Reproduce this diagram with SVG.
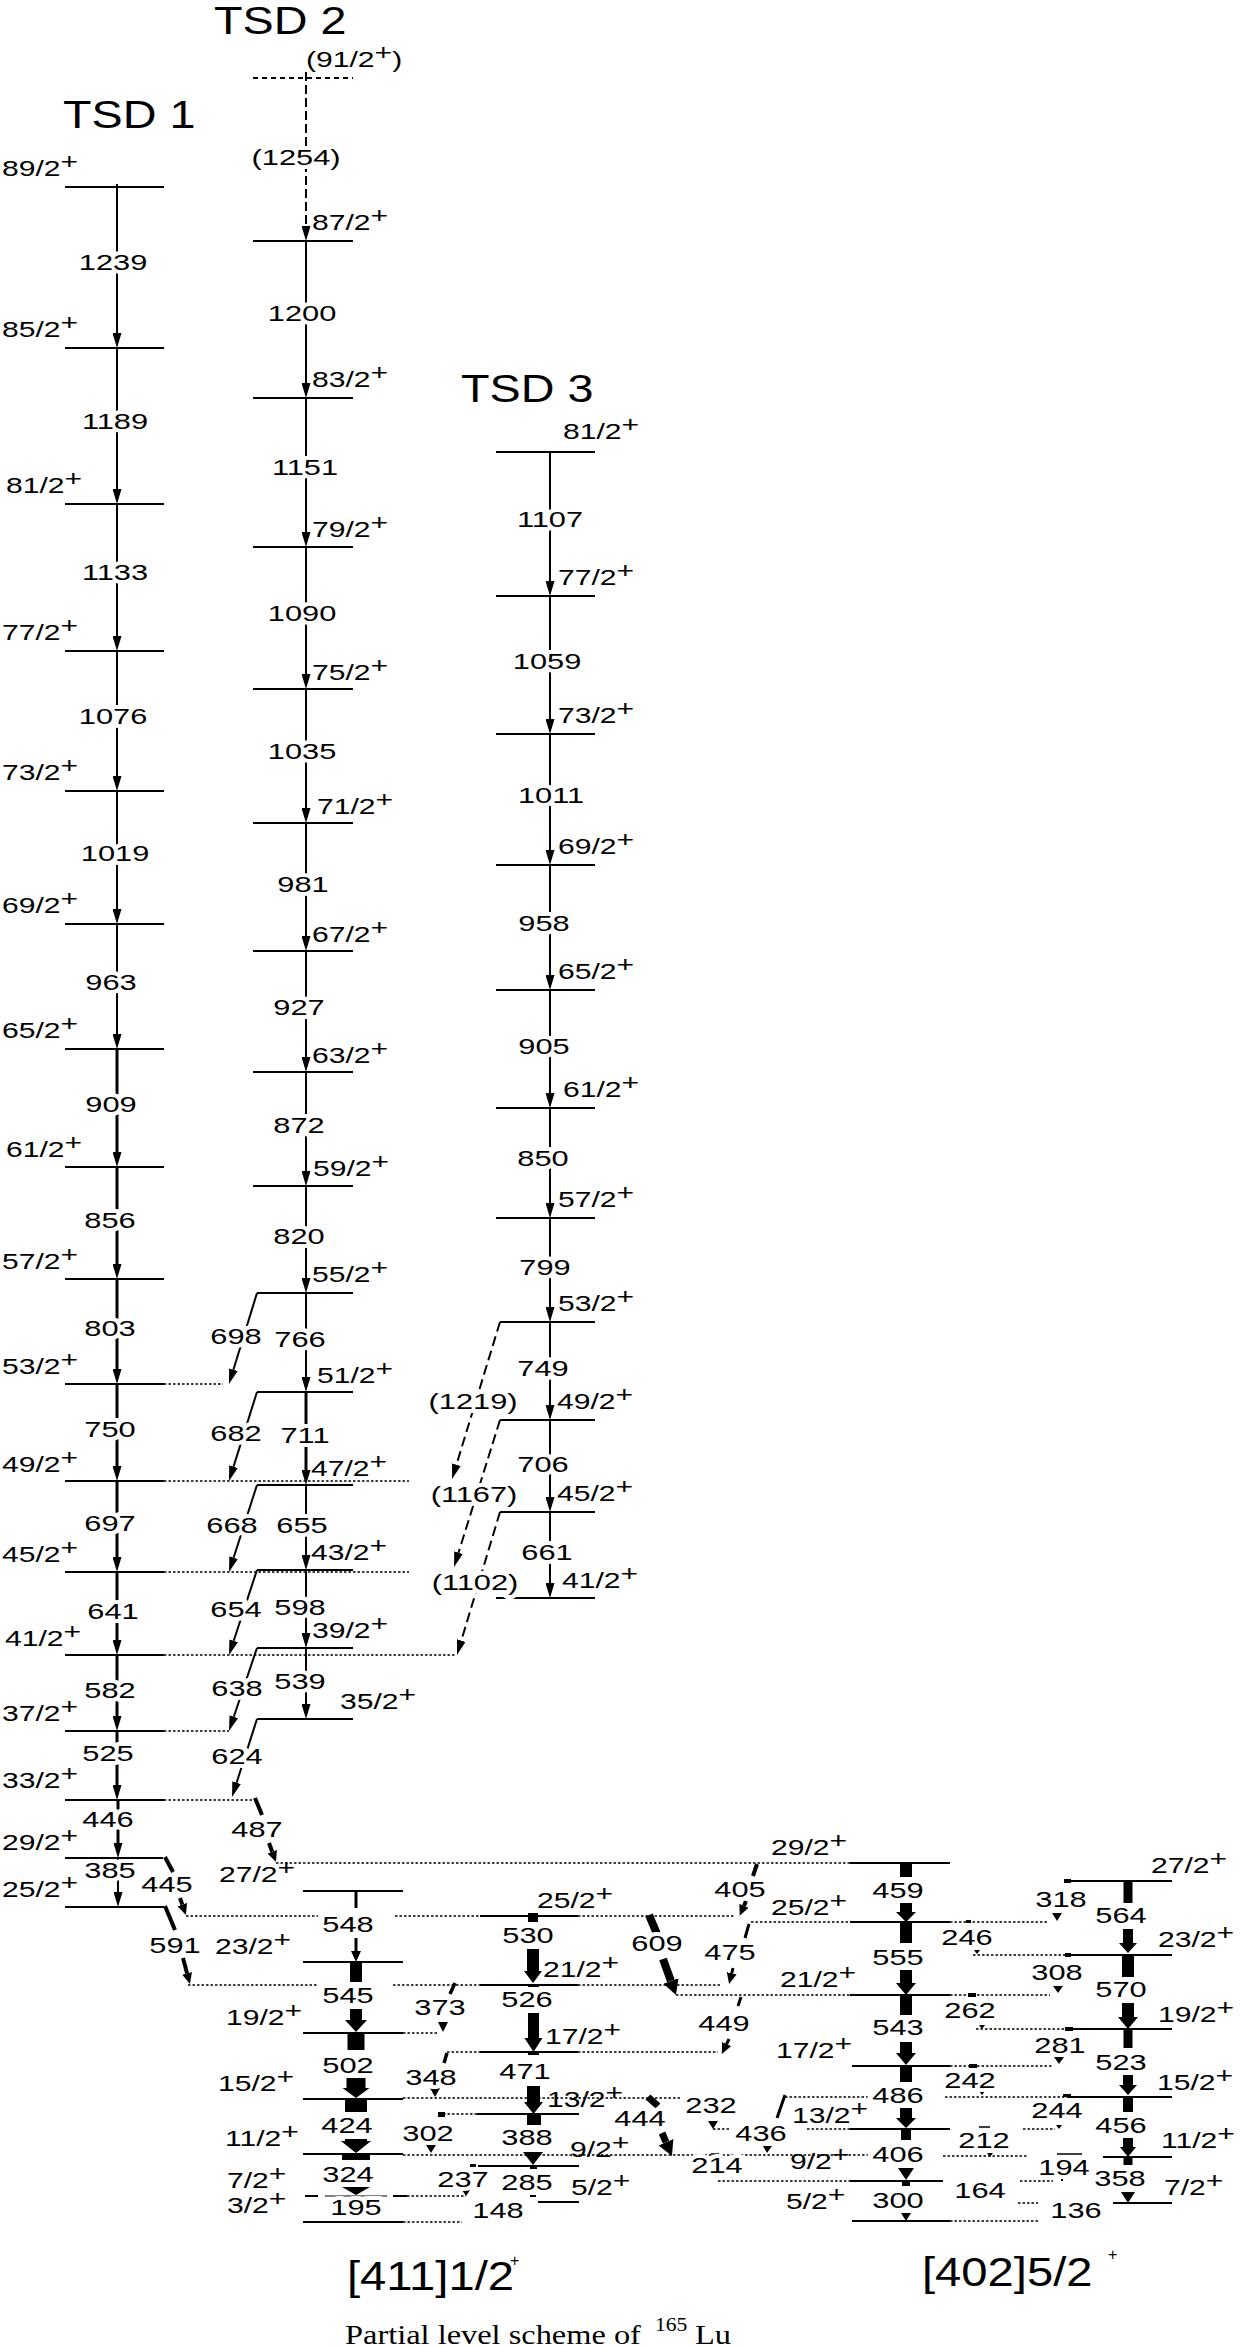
<svg xmlns="http://www.w3.org/2000/svg" width="1240" height="2346" viewBox="0 0 1240 2346">
<defs>
<style>
.lv{stroke:#000;stroke-width:2;fill:none}
.dt{stroke:#000;stroke-width:1.4;stroke-dasharray:2.5 2;fill:none}
.tr{stroke:#000;stroke-width:2;fill:none;marker-end:url(#ah)}
.tk{stroke-width:3}
.dsh{stroke-dasharray:10 5}
.sl{stroke:#000;fill:none}
text{font-family:"Liberation Sans",Arial,Helvetica,sans-serif;fill:#000}
.s{font-size:21.5px}
.e{font-size:22px;text-anchor:middle;stroke:#fff;stroke-width:8px;stroke-linejoin:round;paint-order:stroke}
.ti{font-size:38px}
.bl{font-size:40px}
</style>
<marker id="ah" viewBox="0 0 15 9" refX="0" refY="4.5" markerWidth="15" markerHeight="9" markerUnits="userSpaceOnUse" orient="auto"><path d="M0,0L15,4.5L0,9z" fill="#000"/></marker>
<marker id="am" viewBox="0 0 11 10" refX="0" refY="5" markerWidth="11" markerHeight="10" markerUnits="userSpaceOnUse" orient="auto"><path d="M0,0L11,5L0,10z" fill="#000"/></marker>
<marker id="aw" viewBox="0 0 15 16" refX="0" refY="8" markerWidth="15" markerHeight="16" markerUnits="userSpaceOnUse" orient="auto"><path d="M0,0L15,8L0,16z" fill="#000"/></marker>
</defs>
<rect width="1240" height="2346" fill="#fff"/>

<g id="titles">
<text class="ti" transform="translate(63,128) scale(1.23,1)">TSD 1</text>
<text class="ti" transform="translate(214,34) scale(1.23,1)">TSD 2</text>
<text class="ti" transform="translate(461,402) scale(1.23,1)">TSD 3</text>
<text class="bl" transform="translate(347,2290) scale(1.18,1)">[411]1/2</text>
<text style="font-size:16px" transform="translate(510,2266)">+</text>
<text class="bl" transform="translate(922,2286) scale(1.18,1)">[402]5/2</text>
<text style="font-size:16px" transform="translate(1108,2260)">+</text>
<text style="font-family:'Liberation Serif','Times New Roman',serif;font-size:27px" transform="translate(345,2344) scale(1.2,1)">Partial level scheme of</text>
<text style="font-family:'Liberation Serif','Times New Roman',serif;font-size:18px" transform="translate(655,2331) scale(1.2,1)">165</text>
<text style="font-family:'Liberation Serif','Times New Roman',serif;font-size:27px" transform="translate(695,2344) scale(1.2,1)">Lu</text>
</g>

<g id="levels">
<!-- TSD1 -->
<g id="t1-89"><line class="lv" x1="65" y1="187" x2="164" y2="187"/><text class="s" transform="translate(2,176) scale(1.4,1)">89/2<tspan dy="-7">+</tspan></text></g>
<g id="t1-85"><line class="lv" x1="65" y1="348" x2="164" y2="348"/><text class="s" transform="translate(2,337) scale(1.4,1)">85/2<tspan dy="-7">+</tspan></text></g>
<g id="t1-81"><line class="lv" x1="65" y1="504" x2="164" y2="504"/><text class="s" transform="translate(6,493) scale(1.4,1)">81/2<tspan dy="-7">+</tspan></text></g>
<g id="t1-77"><line class="lv" x1="65" y1="651" x2="164" y2="651"/><text class="s" transform="translate(2,640) scale(1.4,1)">77/2<tspan dy="-7">+</tspan></text></g>
<g id="t1-73"><line class="lv" x1="65" y1="791" x2="164" y2="791"/><text class="s" transform="translate(2,780) scale(1.4,1)">73/2<tspan dy="-7">+</tspan></text></g>
<g id="t1-69"><line class="lv" x1="65" y1="924" x2="164" y2="924"/><text class="s" transform="translate(2,913) scale(1.4,1)">69/2<tspan dy="-7">+</tspan></text></g>
<g id="t1-65"><line class="lv" x1="65" y1="1049" x2="164" y2="1049"/><text class="s" transform="translate(2,1038) scale(1.4,1)">65/2<tspan dy="-7">+</tspan></text></g>
<g id="t1-61"><line class="lv" x1="65" y1="1167" x2="164" y2="1167"/><text class="s" transform="translate(6,1157) scale(1.4,1)">61/2<tspan dy="-7">+</tspan></text></g>
<g id="t1-57"><line class="lv" x1="65" y1="1279" x2="164" y2="1279"/><text class="s" transform="translate(2,1269) scale(1.4,1)">57/2<tspan dy="-7">+</tspan></text></g>
<g id="t1-53"><line class="lv" x1="65" y1="1384" x2="164" y2="1384"/><line class="dt" x1="164" y1="1384" x2="223" y2="1384"/><text class="s" transform="translate(2,1374) scale(1.4,1)">53/2<tspan dy="-7">+</tspan></text></g>
<g id="t1-49"><line class="lv" x1="65" y1="1481" x2="164" y2="1481"/><line class="dt" x1="164" y1="1481" x2="409" y2="1481"/><text class="s" transform="translate(2,1472) scale(1.4,1)">49/2<tspan dy="-7">+</tspan></text></g>
<g id="t1-45"><line class="lv" x1="65" y1="1572" x2="164" y2="1572"/><line class="dt" x1="164" y1="1572" x2="409" y2="1572"/><text class="s" transform="translate(2,1562) scale(1.4,1)">45/2<tspan dy="-7">+</tspan></text></g>
<g id="t1-41"><line class="lv" x1="65" y1="1655" x2="164" y2="1655"/><line class="dt" x1="164" y1="1655" x2="455" y2="1655"/><text class="s" transform="translate(5,1646) scale(1.4,1)">41/2<tspan dy="-7">+</tspan></text></g>
<g id="t1-37"><line class="lv" x1="65" y1="1731" x2="164" y2="1731"/><line class="dt" x1="164" y1="1731" x2="229" y2="1731"/><text class="s" transform="translate(2,1721) scale(1.4,1)">37/2<tspan dy="-7">+</tspan></text></g>
<g id="t1-33"><line class="lv" x1="65" y1="1800" x2="164" y2="1800"/><line class="dt" x1="164" y1="1800" x2="252" y2="1800"/><text class="s" transform="translate(2,1788) scale(1.4,1)">33/2<tspan dy="-7">+</tspan></text></g>
<g id="t1-29"><line class="lv" x1="65" y1="1858" x2="163" y2="1858"/><text class="s" transform="translate(2,1850) scale(1.4,1)">29/2<tspan dy="-7">+</tspan></text></g>
<g id="t1-25"><line class="lv" x1="65" y1="1907" x2="164" y2="1907"/><text class="s" transform="translate(2,1897) scale(1.4,1)">25/2<tspan dy="-7">+</tspan></text></g>
<!-- TSD2 -->
<g id="t2-91"><line class="lv" x1="253" y1="78" x2="353" y2="78" stroke-dasharray="5 4" stroke-width="1.5"/><text class="s" transform="translate(306,67) scale(1.4,1)">(91/2<tspan dy="-7">+</tspan><tspan dy="7">)</tspan></text></g>
<g id="t2-87"><line class="lv" x1="253" y1="241" x2="353" y2="241"/><text class="s" transform="translate(312,230) scale(1.4,1)">87/2<tspan dy="-7">+</tspan></text></g>
<g id="t2-83"><line class="lv" x1="253" y1="398" x2="353" y2="398"/><text class="s" transform="translate(312,387) scale(1.4,1)">83/2<tspan dy="-7">+</tspan></text></g>
<g id="t2-79"><line class="lv" x1="253" y1="547" x2="353" y2="547"/><text class="s" transform="translate(312,537) scale(1.4,1)">79/2<tspan dy="-7">+</tspan></text></g>
<g id="t2-75"><line class="lv" x1="253" y1="689" x2="353" y2="689"/><text class="s" transform="translate(312,680) scale(1.4,1)">75/2<tspan dy="-7">+</tspan></text></g>
<g id="t2-71"><line class="lv" x1="253" y1="823" x2="353" y2="823"/><text class="s" transform="translate(317,814) scale(1.4,1)">71/2<tspan dy="-7">+</tspan></text></g>
<g id="t2-67"><line class="lv" x1="253" y1="951" x2="353" y2="951"/><text class="s" transform="translate(312,942) scale(1.4,1)">67/2<tspan dy="-7">+</tspan></text></g>
<g id="t2-63"><line class="lv" x1="253" y1="1072" x2="353" y2="1072"/><text class="s" transform="translate(312,1063) scale(1.4,1)">63/2<tspan dy="-7">+</tspan></text></g>
<g id="t2-59"><line class="lv" x1="253" y1="1186" x2="353" y2="1186"/><text class="s" transform="translate(313,1176) scale(1.4,1)">59/2<tspan dy="-7">+</tspan></text></g>
<g id="t2-55"><line class="lv" x1="257" y1="1293" x2="353" y2="1293"/><text class="s" transform="translate(312,1282) scale(1.4,1)">55/2<tspan dy="-7">+</tspan></text></g>
<g id="t2-51"><line class="lv" x1="257" y1="1392" x2="353" y2="1392"/><text class="s" transform="translate(317,1383) scale(1.4,1)">51/2<tspan dy="-7">+</tspan></text></g>
<g id="t2-47"><line class="lv" x1="257" y1="1485" x2="353" y2="1485"/><text class="s" transform="translate(311,1476) scale(1.4,1)">47/2<tspan dy="-7">+</tspan></text></g>
<g id="t2-43"><line class="lv" x1="257" y1="1570" x2="353" y2="1570"/><text class="s" transform="translate(311,1560) scale(1.4,1)">43/2<tspan dy="-7">+</tspan></text></g>
<g id="t2-39"><line class="lv" x1="257" y1="1648" x2="353" y2="1648"/><text class="s" transform="translate(312,1638) scale(1.4,1)">39/2<tspan dy="-7">+</tspan></text></g>
<g id="t2-35"><line class="lv" x1="257" y1="1719" x2="353" y2="1719"/><text class="s" transform="translate(340,1709) scale(1.4,1)">35/2<tspan dy="-7">+</tspan></text></g>
<!-- TSD3 -->
<g id="t3-81"><line class="lv" x1="496" y1="452" x2="595" y2="452"/><text class="s" transform="translate(563,439) scale(1.4,1)">81/2<tspan dy="-7">+</tspan></text></g>
<g id="t3-77"><line class="lv" x1="496" y1="596" x2="595" y2="596"/><text class="s" transform="translate(558,585) scale(1.4,1)">77/2<tspan dy="-7">+</tspan></text></g>
<g id="t3-73"><line class="lv" x1="496" y1="734" x2="595" y2="734"/><text class="s" transform="translate(558,723) scale(1.4,1)">73/2<tspan dy="-7">+</tspan></text></g>
<g id="t3-69"><line class="lv" x1="496" y1="865" x2="595" y2="865"/><text class="s" transform="translate(558,854) scale(1.4,1)">69/2<tspan dy="-7">+</tspan></text></g>
<g id="t3-65"><line class="lv" x1="496" y1="990" x2="595" y2="990"/><text class="s" transform="translate(558,979) scale(1.4,1)">65/2<tspan dy="-7">+</tspan></text></g>
<g id="t3-61"><line class="lv" x1="496" y1="1108" x2="595" y2="1108"/><text class="s" transform="translate(563,1097) scale(1.4,1)">61/2<tspan dy="-7">+</tspan></text></g>
<g id="t3-57"><line class="lv" x1="496" y1="1218" x2="595" y2="1218"/><text class="s" transform="translate(558,1207) scale(1.4,1)">57/2<tspan dy="-7">+</tspan></text></g>
<g id="t3-53"><line class="lv" x1="500" y1="1322" x2="595" y2="1322"/><text class="s" transform="translate(558,1311) scale(1.4,1)">53/2<tspan dy="-7">+</tspan></text></g>
<g id="t3-49"><line class="lv" x1="500" y1="1420" x2="595" y2="1420"/><text class="s" transform="translate(557,1409) scale(1.4,1)">49/2<tspan dy="-7">+</tspan></text></g>
<g id="t3-45"><line class="lv" x1="500" y1="1512" x2="595" y2="1512"/><text class="s" transform="translate(557,1501) scale(1.4,1)">45/2<tspan dy="-7">+</tspan></text></g>
<g id="t3-41"><line class="lv" x1="496" y1="1598" x2="595" y2="1598"/><text class="s" transform="translate(562,1588) scale(1.4,1)">41/2<tspan dy="-7">+</tspan></text></g>
<!-- [411] left -->
<g id="a-27"><line class="lv" x1="303" y1="1891" x2="403" y2="1891"/><text class="s" transform="translate(219,1882) scale(1.4,1)">27/2<tspan dy="-7">+</tspan></text></g>
<g id="a-23"><line class="lv" x1="303" y1="1962" x2="403" y2="1962"/><text class="s" transform="translate(215,1954) scale(1.4,1)">23/2<tspan dy="-7">+</tspan></text></g>
<g id="a-19"><line class="lv" x1="303" y1="2033" x2="403" y2="2033"/><line class="dt" x1="403" y1="2033" x2="438" y2="2033"/><text class="s" transform="translate(226,2025) scale(1.4,1)">19/2<tspan dy="-7">+</tspan></text></g>
<g id="a-15"><line class="lv" x1="303" y1="2099" x2="403" y2="2099"/><line class="dt" x1="403" y1="2098" x2="682" y2="2098"/><text class="s" transform="translate(218,2091) scale(1.4,1)">15/2<tspan dy="-7">+</tspan></text></g>
<g id="a-11"><line class="lv" x1="303" y1="2154" x2="403" y2="2154"/><line class="dt" x1="403" y1="2155" x2="868" y2="2155"/><line class="dt" x1="943" y1="2156" x2="1028" y2="2156"/><line class="sl" stroke-width="1.5" x1="1057" y1="2154" x2="1082" y2="2154"/><text class="s" transform="translate(225,2146) scale(1.4,1)">11/2<tspan dy="-7">+</tspan></text></g>
<g id="a-7"><line class="lv" x1="305" y1="2196" x2="318" y2="2196"/><line class="sl" stroke="#777" stroke-width="1" x1="325" y1="2196" x2="387" y2="2196"/><line class="lv" x1="393" y1="2196" x2="407" y2="2196"/><line class="dt" x1="407" y1="2196" x2="466" y2="2196"/><text class="s" transform="translate(227,2188) scale(1.4,1)">7/2<tspan dy="-7">+</tspan></text></g>
<g id="a-3"><line class="lv" x1="303" y1="2222" x2="403" y2="2222"/><line class="dt" x1="403" y1="2222" x2="462" y2="2222"/><text class="s" transform="translate(227,2213) scale(1.4,1)">3/2<tspan dy="-7">+</tspan></text></g>
<!-- [411] right -->
<g id="b-25"><line class="dt" x1="186" y1="1916" x2="318" y2="1916"/><line class="dt" x1="395" y1="1916" x2="480" y2="1916"/><line class="lv" x1="480" y1="1916" x2="578" y2="1916"/><line class="dt" x1="578" y1="1916" x2="735" y2="1916"/><text class="s" transform="translate(537,1908) scale(1.4,1)">25/2<tspan dy="-7">+</tspan></text></g>
<g id="b-21"><line class="dt" x1="188" y1="1985" x2="318" y2="1985"/><line class="dt" x1="393" y1="1985" x2="480" y2="1985"/><line class="lv" x1="480" y1="1985" x2="578" y2="1985"/><line class="dt" x1="578" y1="1985" x2="722" y2="1985"/><text class="s" transform="translate(543,1977) scale(1.4,1)">21/2<tspan dy="-7">+</tspan></text></g>
<g id="b-17"><line class="dt" x1="447" y1="2052" x2="480" y2="2052"/><line class="lv" x1="480" y1="2052" x2="578" y2="2052"/><line class="dt" x1="578" y1="2052" x2="718" y2="2052"/><text class="s" transform="translate(545,2044) scale(1.4,1)">17/2<tspan dy="-7">+</tspan></text></g>
<g id="b-13"><line class="dt" x1="443" y1="2114" x2="477" y2="2114"/><line class="lv" x1="477" y1="2114" x2="579" y2="2114"/><text class="s" transform="translate(547,2107) scale(1.4,1)">13/2<tspan dy="-7">+</tspan></text></g>
<g id="b-9"><line class="lv" x1="478" y1="2166" x2="579" y2="2166"/><text class="s" transform="translate(570,2157) scale(1.4,1)">9/2<tspan dy="-7">+</tspan></text></g>
<g id="b-5"><line class="lv" x1="538" y1="2202" x2="579" y2="2202"/><text class="s" transform="translate(571,2195) scale(1.4,1)">5/2<tspan dy="-7">+</tspan></text></g>
<!-- [402] left -->
<g id="c-29"><line class="dt" x1="276" y1="1863" x2="850" y2="1863"/><line class="lv" x1="850" y1="1863" x2="950" y2="1863"/><text class="s" transform="translate(771,1855) scale(1.4,1)">29/2<tspan dy="-7">+</tspan></text></g>
<g id="c-25"><line class="dt" x1="751" y1="1922" x2="850" y2="1922"/><line class="lv" x1="850" y1="1922" x2="950" y2="1922"/><line class="dt" x1="950" y1="1922" x2="1048" y2="1922"/><text class="s" transform="translate(771,1915) scale(1.4,1)">25/2<tspan dy="-7">+</tspan></text></g>
<g id="c-21"><line class="dt" x1="676" y1="1995" x2="850" y2="1995"/><line class="lv" x1="850" y1="1995" x2="950" y2="1995"/><line class="dt" x1="950" y1="1995" x2="1050" y2="1995"/><text class="s" transform="translate(780,1987) scale(1.4,1)">21/2<tspan dy="-7">+</tspan></text></g>
<g id="c-17"><line class="lv" x1="852" y1="2066" x2="950" y2="2066"/><line class="dt" x1="950" y1="2066" x2="1053" y2="2066"/><text class="s" transform="translate(776,2058) scale(1.4,1)">17/2<tspan dy="-7">+</tspan></text></g>
<g id="c-13"><line class="dt" x1="807" y1="2129" x2="850" y2="2129"/><line class="lv" x1="850" y1="2129" x2="950" y2="2129"/><line class="dt" x1="1023" y1="2129" x2="1055" y2="2129"/><text class="s" transform="translate(792,2123) scale(1.4,1)">13/2<tspan dy="-7">+</tspan></text></g>
<g id="c-9"><line class="dt" x1="718" y1="2181" x2="850" y2="2181"/><line class="lv" x1="850" y1="2181" x2="943" y2="2181"/><line class="dt" x1="1020" y1="2181" x2="1053" y2="2181"/><text class="s" transform="translate(790,2169) scale(1.4,1)">9/2<tspan dy="-7">+</tspan></text></g>
<g id="c-5"><line class="lv" x1="852" y1="2221" x2="950" y2="2221"/><line class="dt" x1="950" y1="2221" x2="1038" y2="2221"/><text class="s" transform="translate(786,2209) scale(1.4,1)">5/2<tspan dy="-7">+</tspan></text></g>
<!-- [402] right -->
<g id="d-27"><line class="lv" x1="1067" y1="1881" x2="1172" y2="1881"/><text class="s" transform="translate(1151,1873) scale(1.4,1)">27/2<tspan dy="-7">+</tspan></text></g>
<g id="d-23"><line class="dt" x1="973" y1="1955" x2="1067" y2="1955"/><line class="lv" x1="1067" y1="1955" x2="1172" y2="1955"/><text class="s" transform="translate(1158,1947) scale(1.4,1)">23/2<tspan dy="-7">+</tspan></text></g>
<g id="d-19"><line class="dt" x1="976" y1="2029" x2="1067" y2="2029"/><line class="lv" x1="1067" y1="2029" x2="1172" y2="2029"/><text class="s" transform="translate(1158,2022) scale(1.4,1)">19/2<tspan dy="-7">+</tspan></text></g>
<g id="d-15"><line class="dt" x1="785" y1="2097" x2="868" y2="2097"/><line class="dt" x1="945" y1="2097" x2="1067" y2="2097"/><line class="lv" x1="1067" y1="2097" x2="1172" y2="2097"/><text class="s" transform="translate(1157,2090) scale(1.4,1)">15/2<tspan dy="-7">+</tspan></text></g>
<g id="d-11"><line class="lv" x1="1103" y1="2157" x2="1172" y2="2157"/><text class="s" transform="translate(1161,2148) scale(1.4,1)">11/2<tspan dy="-7">+</tspan></text></g>
<g id="d-7"><line class="dt" x1="1018" y1="2203" x2="1038" y2="2203"/><line class="lv" x1="1113" y1="2203" x2="1172" y2="2203"/><text class="s" transform="translate(1164,2195) scale(1.4,1)">7/2<tspan dy="-7">+</tspan></text></g>
</g>

<g id="transitions">
<!-- TSD1 -->
<line class="tr" x1="117" y1="184" x2="117" y2="333"/>
<line class="tr" x1="117" y1="348" x2="117" y2="489"/>
<line class="tr" x1="117" y1="504" x2="117" y2="636"/>
<line class="tr" x1="117" y1="651" x2="117" y2="776"/>
<line class="tr" x1="117" y1="791" x2="117" y2="909"/>
<line class="tr" x1="117" y1="924" x2="117" y2="1034"/>
<line class="tr tk" x1="117" y1="1049" x2="117" y2="1152"/>
<line class="tr tk" x1="117" y1="1167" x2="117" y2="1264"/>
<line class="tr tk" x1="117" y1="1279" x2="117" y2="1369"/>
<line class="tr tk" x1="117" y1="1384" x2="117" y2="1466"/>
<line class="tr tk" x1="117" y1="1481" x2="117" y2="1557"/>
<line class="tr tk" x1="117" y1="1572" x2="117" y2="1640"/>
<line class="tr tk" x1="117" y1="1655" x2="117" y2="1716"/>
<line class="tr tk" x1="117" y1="1731" x2="117" y2="1785"/>
<line class="tr tk" x1="118" y1="1800" x2="118" y2="1843"/>
<line class="tr" stroke-width="2.5" x1="118" y1="1858" x2="118" y2="1892"/>
<!-- TSD2 -->
<line class="tr" stroke-dasharray="9 4" x1="306" y1="72" x2="306" y2="226"/>
<line class="tr" x1="306" y1="241" x2="306" y2="383"/>
<line class="tr" x1="306" y1="398" x2="306" y2="532"/>
<line class="tr" x1="306" y1="547" x2="306" y2="674"/>
<line class="tr" x1="306" y1="689" x2="306" y2="808"/>
<line class="tr" x1="306" y1="823" x2="306" y2="936"/>
<line class="tr" x1="306" y1="951" x2="306" y2="1057"/>
<line class="tr" x1="306" y1="1072" x2="306" y2="1171"/>
<line class="tr" x1="306" y1="1186" x2="306" y2="1278"/>
<line class="tr" x1="306" y1="1293" x2="306" y2="1377"/>
<line class="tr tk" x1="306" y1="1392" x2="306" y2="1470"/>
<line class="tr" x1="306" y1="1485" x2="306" y2="1555"/>
<line class="tr" x1="306" y1="1570" x2="306" y2="1633"/>
<line class="tr" x1="306" y1="1648" x2="306" y2="1704"/>
<!-- TSD2 to TSD1 -->
<line class="tr" x1="257" y1="1293" x2="233.4" y2="1369.7"/>
<line class="tr" x1="257" y1="1392" x2="233.5" y2="1466.7"/>
<line class="tr" x1="257" y1="1485" x2="233.6" y2="1557.7"/>
<line class="tr" x1="257" y1="1570" x2="233.7" y2="1640.8"/>
<line class="tr" x1="257" y1="1648" x2="233.8" y2="1716.8"/>
<line class="tr" x1="257" y1="1719" x2="236.6" y2="1782.7"/>
<!-- TSD3 -->
<line class="tr" x1="550" y1="452" x2="550" y2="581"/>
<line class="tr" x1="550" y1="596" x2="550" y2="719"/>
<line class="tr" x1="550" y1="734" x2="550" y2="850"/>
<line class="tr" x1="550" y1="865" x2="550" y2="975"/>
<line class="tr" x1="550" y1="990" x2="550" y2="1093"/>
<line class="tr" x1="550" y1="1108" x2="550" y2="1203"/>
<line class="tr" x1="550" y1="1218" x2="550" y2="1307"/>
<line class="tr" x1="550" y1="1322" x2="550" y2="1405"/>
<line class="tr" x1="550" y1="1420" x2="550" y2="1497"/>
<line class="tr" x1="550" y1="1512" x2="550" y2="1583"/>
<line class="tr dsh" x1="500" y1="1322" x2="456.4" y2="1464.7"/>
<line class="tr dsh" x1="500" y1="1420" x2="458.5" y2="1552.7"/>
<line class="tr dsh" x1="500" y1="1512" x2="461.3" y2="1640.6"/>
<!-- linking slanted -->
<line class="sl" stroke-width="4" x1="255" y1="1798" x2="262" y2="1815"/>
<line class="sl" stroke-width="4" x1="269" y1="1843" x2="272.2" y2="1851.7" marker-end="url(#am)"/>
<line class="sl" stroke-width="4" x1="165" y1="1857" x2="173" y2="1872"/>
<line class="sl" stroke-width="4" x1="180" y1="1898" x2="182.3" y2="1904.6" marker-end="url(#am)"/>
<line class="sl" stroke-width="4" x1="165" y1="1906" x2="175" y2="1930"/>
<line class="sl" stroke-width="4" x1="183" y1="1958" x2="187.1" y2="1973.4" marker-end="url(#am)"/>
<line class="sl" stroke-width="8" x1="649" y1="1915" x2="657" y2="1934"/>
<line class="sl" stroke-width="8" x1="663" y1="1959" x2="670.9" y2="1980.9" marker-end="url(#aw)"/>
<line class="sl" stroke-width="4" x1="757" y1="1864" x2="753" y2="1876"/>
<line class="sl" stroke-width="4" x1="746" y1="1901" x2="744" y2="1905.7" marker-end="url(#am)"/>
<line class="sl" stroke-width="3" x1="749" y1="1924" x2="745" y2="1938"/>
<line class="sl" stroke-width="3" x1="733" y1="1968" x2="731.7" y2="1973.3" marker-end="url(#am)"/>
<line class="sl" stroke-width="3" x1="741" y1="1997" x2="738" y2="2006"/>
<line class="sl" stroke-width="3" x1="729" y1="2039" x2="726.6" y2="2044" marker-end="url(#am)"/>
<line class="sl" stroke-width="7" x1="648" y1="2097" x2="658" y2="2106"/>
<line class="sl" stroke-width="7" x1="662" y1="2133" x2="666" y2="2142.2" marker-end="url(#aw)"/>
<line class="sl" stroke-width="3" x1="785" y1="2095" x2="777" y2="2118"/>
<polygon points="763,2146 772,2146 767,2153"/>
<polygon points="708,2121 718,2121 713,2129"/>
<line class="dt" x1="713" y1="2129" x2="730" y2="2129"/>
<line class="sl" stroke-width="1.5" x1="711" y1="2154" x2="719" y2="2154"/>
<!-- [411] small cross -->
<line class="sl" stroke-width="3.5" x1="455" y1="1983" x2="450" y2="1994"/>
<polygon points="438,2022 448,2022 443,2032"/>
<line class="sl" stroke-width="3.5" x1="447" y1="2053" x2="444" y2="2063"/>
<polygon points="430,2088 440,2088 435,2097"/>
<rect x="438" y="2112" width="7" height="5"/>
<polygon points="426,2145 436,2145 431,2153"/>
<rect x="470" y="2164" width="6" height="3"/>
<polygon points="462,2190 470,2190 466,2196"/>
<rect x="530" y="2195" width="6" height="2"/>
<!-- [402] small cross -->
<rect x="1064" y="1879" width="7" height="4"/>
<polygon points="1052,1913 1062,1913 1057,1921"/>
<rect x="966" y="1920" width="5" height="3"/>
<polygon points="974,1950 980,1950 977,1954"/>
<rect x="1065" y="1953" width="6" height="4"/>
<polygon points="1053,1986 1063,1986 1058,1993"/>
<rect x="968" y="1993" width="8" height="4"/>
<polygon points="979,2025 985,2025 982,2029"/>
<rect x="1065" y="2027" width="8" height="4"/>
<polygon points="1054,2057 1064,2057 1059,2064"/>
<rect x="969" y="2064" width="8" height="4"/>
<polygon points="979,2091 985,2091 982,2095"/>
<rect x="1063" y="2094" width="8" height="3"/>
<polygon points="1056,2125 1062,2125 1059,2129"/>
<line class="sl" stroke-width="1.5" x1="979" y1="2127" x2="990" y2="2127"/>
<polygon points="987,2153 993,2153 990,2157"/>
<rect x="1061" y="2179" width="2" height="2"/>
<!-- [411] left col -->
<rect x="354.5" y="1891" width="3" height="17"/>
<polygon points="354.5,1938 357.5,1938 357.5,1951 361,1951 356,1962 351,1951 354.5,1951"/>
<rect x="350" y="1962" width="12" height="20"/>
<polygon points="350,2009 362,2009 362,2020 367,2020 356,2032 345,2020 350,2020"/>
<rect x="347.5" y="2033" width="17" height="17"/>
<polygon points="346.5,2078 365.5,2078 365.5,2088 369.5,2088 356,2098 342.5,2088 346.5,2088"/>
<rect x="345" y="2099" width="22" height="13"/>
<polygon points="345,2139 367,2139 367,2141 371,2141 356,2153 341,2141 345,2141"/>
<rect x="342" y="2154" width="28" height="6"/>
<polygon points="342,2187 370,2187 356,2195"/>
<!-- [411] right col -->
<rect x="528" y="1913" width="10" height="9"/>
<polygon points="527,1949 539,1949 539,1971 542,1971 533,1983 524,1971 527,1971"/>
<rect x="528" y="1984" width="11" height="3"/>
<polygon points="528,2013 539,2013 539,2038 542.5,2038 533.5,2052 524.5,2038 528,2038"/>
<rect x="528" y="2051" width="11" height="4"/>
<polygon points="527,2086 540,2086 540,2102 543,2102 533.5,2114 524,2102 527,2102"/>
<rect x="527" y="2114" width="14" height="11"/>
<polygon points="523,2152 543,2152 533,2165"/>
<rect x="530" y="2166" width="7" height="3"/>
<!-- [402] left col -->
<rect x="900" y="1863" width="12" height="14"/>
<polygon points="900,1903 912,1903 912,1912 916,1912 906,1922 896,1912 900,1912"/>
<rect x="900" y="1922" width="12" height="21"/>
<polygon points="900,1970 912,1970 912,1983 916,1983 906,1995 896,1983 900,1983"/>
<rect x="900" y="1995" width="12" height="20"/>
<polygon points="900,2042 912,2042 912,2053 916,2053 906,2065 896,2053 900,2053"/>
<rect x="900" y="2066" width="12" height="16"/>
<polygon points="900,2108 912,2108 912,2118 916,2118 906,2128 896,2118 900,2118"/>
<rect x="901" y="2129" width="10" height="11"/>
<polygon points="898,2168 914,2168 906,2180"/>
<rect x="902" y="2181" width="8" height="5"/>
<polygon points="901,2213 911,2213 906,2221"/>
<!-- [402] right col -->
<rect x="1123.5" y="1881" width="9" height="22"/>
<polygon points="1123,1929 1133,1929 1133,1943 1137,1943 1128,1953 1119,1943 1123,1943"/>
<rect x="1122" y="1955" width="12" height="22"/>
<polygon points="1122,2003 1134,2003 1134,2017 1138,2017 1128,2029 1118,2017 1122,2017"/>
<rect x="1123.5" y="2029" width="9" height="19"/>
<polygon points="1123,2075 1133,2075 1133,2085 1137,2085 1128,2095 1119,2085 1123,2085"/>
<rect x="1123" y="2096" width="10" height="16"/>
<polygon points="1123,2138 1133,2138 1133,2147 1136,2147 1128,2157 1120,2147 1123,2147"/>
<rect x="1123.5" y="2157" width="9" height="8"/>
<polygon points="1121,2192 1135,2192 1128,2203"/>

<!-- energy labels -->
<g id="energies">
<text class="e" transform="translate(113,270) scale(1.4,1)">1239</text>
<text class="e" transform="translate(115,429) scale(1.4,1)">1189</text>
<text class="e" transform="translate(115,580) scale(1.4,1)">1133</text>
<text class="e" transform="translate(113,724) scale(1.4,1)">1076</text>
<text class="e" transform="translate(115,861) scale(1.4,1)">1019</text>
<text class="e" transform="translate(111,990) scale(1.4,1)">963</text>
<text class="e" transform="translate(111,1112) scale(1.4,1)">909</text>
<text class="e" transform="translate(110,1228) scale(1.4,1)">856</text>
<text class="e" transform="translate(110,1336) scale(1.4,1)">803</text>
<text class="e" transform="translate(110,1437) scale(1.4,1)">750</text>
<text class="e" transform="translate(110,1531) scale(1.4,1)">697</text>
<text class="e" transform="translate(113,1619) scale(1.4,1)">641</text>
<text class="e" transform="translate(110,1698) scale(1.4,1)">582</text>
<text class="e" transform="translate(108,1761) scale(1.4,1)">525</text>
<text class="e" transform="translate(108,1827) scale(1.4,1)">446</text>
<text class="e" transform="translate(110,1878) scale(1.4,1)">385</text>
<text class="e" transform="translate(296,165) scale(1.4,1)">(1254)</text>
<text class="e" transform="translate(302,321) scale(1.4,1)">1200</text>
<text class="e" transform="translate(305,475) scale(1.4,1)">1151</text>
<text class="e" transform="translate(302,621) scale(1.4,1)">1090</text>
<text class="e" transform="translate(302,759) scale(1.4,1)">1035</text>
<text class="e" transform="translate(303,892) scale(1.4,1)">981</text>
<text class="e" transform="translate(299,1015) scale(1.4,1)">927</text>
<text class="e" transform="translate(299,1133) scale(1.4,1)">872</text>
<text class="e" transform="translate(299,1244) scale(1.4,1)">820</text>
<text class="e" transform="translate(300,1347) scale(1.4,1)">766</text>
<text class="e" transform="translate(305,1443) scale(1.4,1)">711</text>
<text class="e" transform="translate(302,1533) scale(1.4,1)">655</text>
<text class="e" transform="translate(300,1615) scale(1.4,1)">598</text>
<text class="e" transform="translate(300,1689) scale(1.4,1)">539</text>
<text class="e" transform="translate(236,1344) scale(1.4,1)">698</text>
<text class="e" transform="translate(236,1441) scale(1.4,1)">682</text>
<text class="e" transform="translate(232,1533) scale(1.4,1)">668</text>
<text class="e" transform="translate(236,1617) scale(1.4,1)">654</text>
<text class="e" transform="translate(237,1696) scale(1.4,1)">638</text>
<text class="e" transform="translate(237,1764) scale(1.4,1)">624</text>
<text class="e" transform="translate(550,527) scale(1.4,1)">1107</text>
<text class="e" transform="translate(547,669) scale(1.4,1)">1059</text>
<text class="e" transform="translate(551,803) scale(1.4,1)">1011</text>
<text class="e" transform="translate(544,931) scale(1.4,1)">958</text>
<text class="e" transform="translate(544,1054) scale(1.4,1)">905</text>
<text class="e" transform="translate(543,1166) scale(1.4,1)">850</text>
<text class="e" transform="translate(545,1275) scale(1.4,1)">799</text>
<text class="e" transform="translate(543,1376) scale(1.4,1)">749</text>
<text class="e" transform="translate(543,1472) scale(1.4,1)">706</text>
<text class="e" transform="translate(547,1560) scale(1.4,1)">661</text>
<text class="e" transform="translate(473,1409) scale(1.4,1)">(1219)</text>
<text class="e" transform="translate(474,1502) scale(1.4,1)">(1167)</text>
<text class="e" transform="translate(475,1590) scale(1.4,1)">(1102)</text>
<text class="e" transform="translate(257,1837) scale(1.4,1)">487</text>
<text class="e" transform="translate(167,1892) scale(1.4,1)">445</text>
<text class="e" transform="translate(175,1953) scale(1.4,1)">591</text>
<text class="e" transform="translate(348,1932) scale(1.4,1)">548</text>
<text class="e" transform="translate(348,2003) scale(1.4,1)">545</text>
<text class="e" transform="translate(348,2073) scale(1.4,1)">502</text>
<text class="e" transform="translate(347,2133) scale(1.4,1)">424</text>
<text class="e" transform="translate(348,2182) scale(1.4,1)">324</text>
<text class="e" transform="translate(356,2215) scale(1.4,1)">195</text>
<text class="e" transform="translate(528,1943) scale(1.4,1)">530</text>
<text class="e" transform="translate(527,2007) scale(1.4,1)">526</text>
<text class="e" transform="translate(525,2079) scale(1.4,1)">471</text>
<text class="e" transform="translate(527,2145) scale(1.4,1)">388</text>
<text class="e" transform="translate(527,2190) scale(1.4,1)">285</text>
<text class="e" transform="translate(440,2015) scale(1.4,1)">373</text>
<text class="e" transform="translate(431,2085) scale(1.4,1)">348</text>
<text class="e" transform="translate(428,2141) scale(1.4,1)">302</text>
<text class="e" transform="translate(463,2187) scale(1.4,1)">237</text>
<text class="e" transform="translate(498,2218) scale(1.4,1)">148</text>
<text class="e" transform="translate(657,1951) scale(1.4,1)">609</text>
<text class="e" transform="translate(740,1897) scale(1.4,1)">405</text>
<text class="e" transform="translate(730,1960) scale(1.4,1)">475</text>
<text class="e" transform="translate(724,2031) scale(1.4,1)">449</text>
<text class="e" transform="translate(640,2126) scale(1.4,1)">444</text>
<text class="e" transform="translate(711,2113) scale(1.4,1)">232</text>
<text class="e" transform="translate(761,2141) scale(1.4,1)">436</text>
<text class="e" transform="translate(717,2173) scale(1.4,1)">214</text>
<text class="e" transform="translate(898,1898) scale(1.4,1)">459</text>
<text class="e" transform="translate(898,1965) scale(1.4,1)">555</text>
<text class="e" transform="translate(898,2035) scale(1.4,1)">543</text>
<text class="e" transform="translate(898,2103) scale(1.4,1)">486</text>
<text class="e" transform="translate(898,2162) scale(1.4,1)">406</text>
<text class="e" transform="translate(898,2208) scale(1.4,1)">300</text>
<text class="e" transform="translate(1121,1923) scale(1.4,1)">564</text>
<text class="e" transform="translate(1121,1997) scale(1.4,1)">570</text>
<text class="e" transform="translate(1121,2070) scale(1.4,1)">523</text>
<text class="e" transform="translate(1121,2133) scale(1.4,1)">456</text>
<text class="e" transform="translate(1120,2186) scale(1.4,1)">358</text>
<text class="e" transform="translate(1061,1907) scale(1.4,1)">318</text>
<text class="e" transform="translate(967,1945) scale(1.4,1)">246</text>
<text class="e" transform="translate(1057,1980) scale(1.4,1)">308</text>
<text class="e" transform="translate(970,2018) scale(1.4,1)">262</text>
<text class="e" transform="translate(1060,2053) scale(1.4,1)">281</text>
<text class="e" transform="translate(970,2088) scale(1.4,1)">242</text>
<text class="e" transform="translate(1057,2118) scale(1.4,1)">244</text>
<text class="e" transform="translate(984,2148) scale(1.4,1)">212</text>
<text class="e" transform="translate(1064,2175) scale(1.4,1)">194</text>
<text class="e" transform="translate(980,2198) scale(1.4,1)">164</text>
<text class="e" transform="translate(1076,2218) scale(1.4,1)">136</text>
</g>
</g>
</svg>
